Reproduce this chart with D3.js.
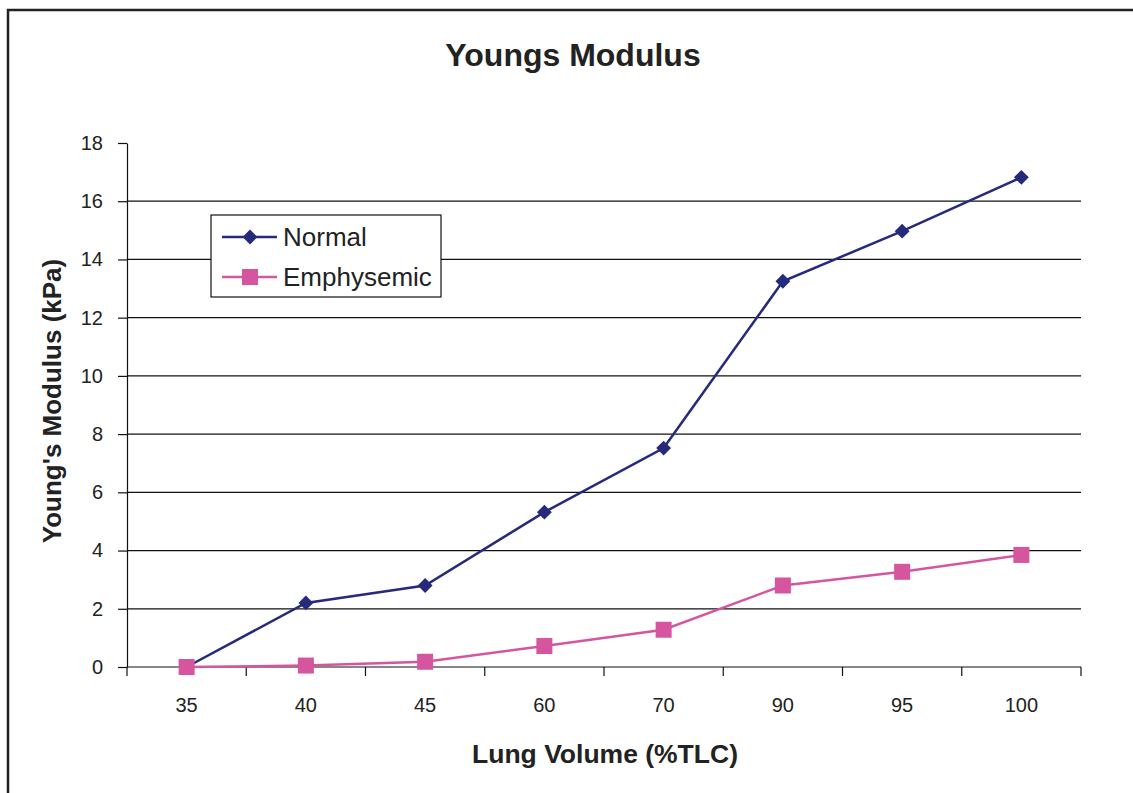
<!DOCTYPE html>
<html>
<head>
<meta charset="utf-8">
<script src="https://cdn.jsdelivr.net/npm/d3@7"></script>
<style>
	body{margin:0;background:#fff;}
	svg{display:block;font-family:"Liberation Sans",Arial,sans-serif;}
</style>
</head>
<body>
<svg id="chart" width="1133" height="793"></svg>
<script>
const volumes = ['35','40','45','60','70','90','95','100'];
const normal = [0, 2.2, 2.8, 5.32, 7.52, 13.25, 14.97, 16.82];
const emphysemic = [0, 0.05, 0.18, 0.72, 1.28, 2.8, 3.27, 3.85];
const yTicks = [0, 2, 4, 6, 8, 10, 12, 14, 16, 18];

const svg = d3.select('#chart');
const margin = {left:127, right:1081, top:143, bottom:667};

// outer chart frame (cropped at right/bottom)
svg.append('rect')
	.attr('x',8).attr('y',10)
	.attr('width',1200).attr('height',900)
	.attr('fill','none').attr('stroke','#222').attr('stroke-width',2.5);

const x = d3.scaleBand().domain(volumes).range([margin.left, margin.right]);
const y = d3.scaleLinear().domain([0,18]).range([margin.bottom, margin.top]);

// gridlines
svg.append('g')
	.selectAll('line')
	.data(yTicks.filter(d => d > 0 && d < 18))
	.join('line')
	.attr('x1',margin.left).attr('x2',margin.right)
	.attr('y1',d => y(d)).attr('y2',d => y(d))
	.attr('stroke','#111').attr('stroke-width',1.2);

// y axis
const yAxis = d3.axisLeft(y).tickValues(yTicks).tickSize(9).tickPadding(15).tickSizeOuter(0);
svg.append('g')
	.attr('transform',`translate(${margin.left},0)`)
	.call(yAxis)
	.call(g => g.select('.domain').attr('stroke','#111').attr('stroke-width',1.2))
	.call(g => g.selectAll('.tick line').attr('stroke','#111').attr('stroke-width',1.2))
	.call(g => g.selectAll('text').attr('font-size',20).attr('fill','#222').attr('font-family','"Liberation Sans",Arial,sans-serif'));

// x axis: ticks at band edges, labels centered
const xg = svg.append('g').attr('transform',`translate(0,${margin.bottom})`);
xg.append('line')
	.attr('x1',margin.left).attr('x2',margin.right)
	.attr('stroke','#111').attr('stroke-width',1.2);
const edges = volumes.map(v => x(v)).concat([margin.right]);
xg.selectAll('line.tk')
	.data(edges)
	.join('line')
	.classed('tk',true)
	.attr('x1',d => d).attr('x2',d => d)
	.attr('y1',0).attr('y2',9)
	.attr('stroke','#111').attr('stroke-width',1.2);
xg.selectAll('text')
	.data(volumes)
	.join('text')
	.attr('x',d => x(d) + x.bandwidth()/2)
	.attr('y',45)
	.attr('text-anchor','middle')
	.attr('font-size',20).attr('fill','#222')
	.text(d => d);

const cx = d => x(d) + x.bandwidth()/2;
const line = d3.line().x((d,i) => cx(volumes[i])).y(d => y(d));

const navy = '#252a7a';
const pink = '#d6559f';
const diamond = d3.symbol().type(d3.symbolDiamond2).size(140);

// normal series
svg.append('path')
	.datum(normal)
	.attr('d',line)
	.attr('fill','none').attr('stroke',navy).attr('stroke-width',2.5);
svg.append('g')
	.selectAll('path')
	.data(normal)
	.join('path')
	.attr('transform',(d,i) => `translate(${cx(volumes[i])},${y(d)})`)
	.attr('d',diamond)
	.attr('fill',navy);

// emphysemic series (drawn on top)
svg.append('path')
	.datum(emphysemic)
	.attr('d',line)
	.attr('fill','none').attr('stroke',pink).attr('stroke-width',2.5);
svg.append('g')
	.selectAll('rect')
	.data(emphysemic)
	.join('rect')
	.attr('x',(d,i) => cx(volumes[i]) - 8)
	.attr('y',d => y(d) - 8)
	.attr('width',16).attr('height',16)
	.attr('fill',pink);

// legend
const lg = svg.append('g');
lg.append('rect')
	.attr('x',211).attr('y',215).attr('width',230).attr('height',82)
	.attr('fill','#fff').attr('stroke','#111').attr('stroke-width',1.2);
const items = [
	{name:'Normal', color:navy, y:237, marker:'diamond'},
	{name:'Emphysemic', color:pink, y:277, marker:'square'}
];
items.forEach(it => {
	lg.append('line')
		.attr('x1',222).attr('x2',277)
		.attr('y1',it.y).attr('y2',it.y)
		.attr('stroke',it.color).attr('stroke-width',2.5);
	if(it.marker == 'diamond'){
		lg.append('path')
			.attr('transform',`translate(250,${it.y})`)
			.attr('d',diamond)
			.attr('fill',it.color);
	}else{
		lg.append('rect')
			.attr('x',242).attr('y',it.y-8)
			.attr('width',16).attr('height',16)
			.attr('fill',it.color);
	}
	lg.append('text')
		.attr('x',283).attr('y',it.y+9)
		.attr('font-size',26).attr('fill','#222')
		.text(it.name);
});

// titles
svg.append('text')
	.attr('x',573).attr('y',66)
	.attr('text-anchor','middle')
	.attr('font-size',32).attr('font-weight','bold').attr('fill','#222')
	.text('Youngs Modulus');
svg.append('text')
	.attr('x',605).attr('y',763)
	.attr('text-anchor','middle')
	.attr('font-size',26.5).attr('font-weight','bold').attr('fill','#222')
	.text('Lung Volume (%TLC)');
svg.append('text')
	.attr('transform','translate(61,401) rotate(-90)')
	.attr('text-anchor','middle')
	.attr('font-size',26).attr('font-weight','bold').attr('fill','#222')
	.text("Young's Modulus (kPa)");
</script>
</body>
</html>
